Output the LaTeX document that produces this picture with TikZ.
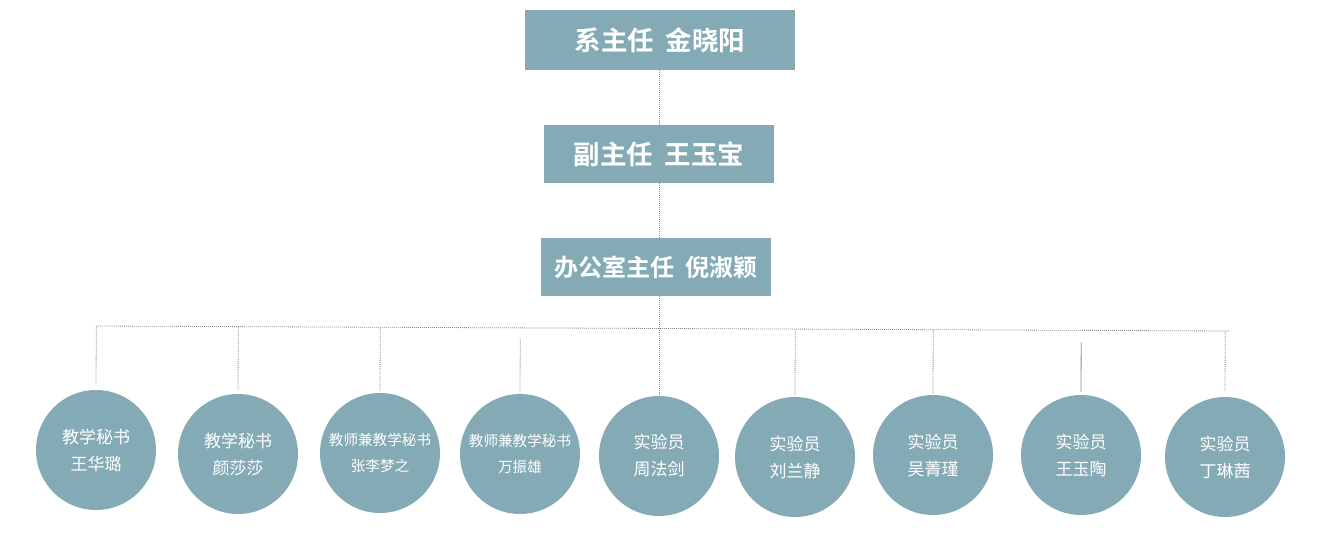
\documentclass[tikz,border=0pt]{standalone}
\usepackage{fontspec}
\newfontfamily\cjk{Noto Sans CJK SC}
\newfontfamily\cjkb{Noto Sans CJK SC Bold}
\usetikzlibrary{calc}
\definecolor{boxfill}{HTML}{84ABB5}
\definecolor{lineclr}{HTML}{8E8E8E}
\begin{document}
\begin{tikzpicture}[x=1pt,y=-1pt,
  headbox/.style={fill=boxfill,text=white,inner sep=0pt,font=\cjkb\fontsize{26.5}{30}\selectfont},
  headboxsm/.style={headbox,font=\cjkb\fontsize{24}{28}\selectfont},
  person/.style={circle,fill=boxfill,text=white,inner sep=0pt,minimum size=120pt,align=center,font=\cjk\fontsize{17}{27}\selectfont},
  personsm/.style={person,font=\cjk\fontsize{14.6}{26}\selectfont},
  conn/.style={draw=lineclr,line width=0.8pt,dash pattern=on 1pt off 1pt},
  solidconn/.style={draw=lineclr,line width=0.8pt}]
\useasboundingbox (0,0) rectangle (1329,548);
\node[headbox,minimum width=270pt,minimum height=60pt] (d1) at (660,40) {系主任\hspace{0.45em}金晓阳};
\node[headbox,minimum width=230pt,minimum height=58pt] (d2) at (659,154) {副主任\hspace{0.45em}王玉宝};
\node[headboxsm,minimum width=230pt,minimum height=58pt] (d3) at (656,267) {办公室主任\hspace{0.45em}倪淑颖};

\node[person] (c1) at (96,450) {教学秘书\\王华璐};
\node[person] (c2) at (238,454) {教学秘书\\颜莎莎};
\node[personsm] (c3) at (380,453) {教师兼教学秘书\\张李梦之};
\node[personsm] (c4) at (520,454) {教师兼教学秘书\\万振雄};
\node[person] (c5) at (659,456) {实验员\\周法剑};
\node[person] (c6) at (795,457) {实验员\\刘兰静};
\node[person] (c7) at (933,455) {实验员\\吴菁瑾};
\node[person] (c8) at (1081,455) {实验员\\王玉陶};
\node[person] (c9) at (1225,457) {实验员\\丁琳茜};

\coordinate (bL) at (96,326);
\coordinate (bR) at (1229,331);

% main vertical
\draw[conn] (d1.south -| c5.north) -- (d2.north -| c5.north);
\draw[conn] (d2.south -| c5.north) -- (d3.north -| c5.north);
\draw[conn] (d3.south -| c5.north) -- (c5.north);
% bus
\draw[conn] (bL) -- (bR);
% drops
\draw[conn,shorten <=6pt] (c1.north) -- ($(bL)!(c1.north)!(bR)$);
\draw[conn,shorten <=4pt] (c2.north) -- ($(bL)!(c2.north)!(bR)$);
\draw[conn,shorten <=2pt] (c3.north) -- ($(bL)!(c3.north)!(bR)$);
\draw[conn,shorten >=10pt] (c4.north) -- ($(bL)!(c4.north)!(bR)$);
\draw[conn,shorten <=2pt] (c6.north) -- ($(bL)!(c6.north)!(bR)$);
\draw[conn,shorten <=2pt] (c7.north) -- ($(bL)!(c7.north)!(bR)$);
\draw[solidconn,shorten <=3pt,shorten >=12pt] (c8.north) -- ($(bL)!(c8.north)!(bR)$);
\draw[conn,shorten <=6pt] (c9.north) -- ($(bL)!(c9.north)!(bR)$);
\end{tikzpicture}
\end{document}
